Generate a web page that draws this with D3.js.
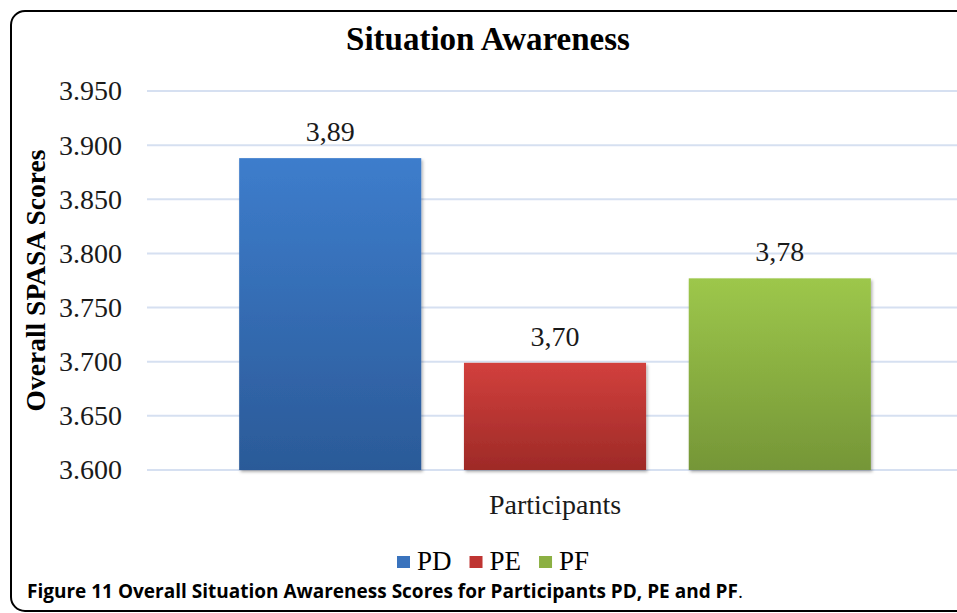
<!DOCTYPE html>
<html>
<head>
<meta charset="utf-8">
<script src="https://cdn.jsdelivr.net/npm/d3@7"></script>
<style>
  body { margin: 0; background: #fff; }
  svg { display: block; }
</style>
</head>
<body>
<script>
// chart data
var categories = ["Participants"];
var series = ["PD", "PE", "PF"];
var scores = [3.888, 3.699, 3.777];
var yTicks = [3.600, 3.650, 3.700, 3.750, 3.800, 3.850, 3.900, 3.950];
var yTickLabels = ["3.600", "3.650", "3.700", "3.750", "3.800", "3.850", "3.900", "3.950"];

var width = 957,
    height = 613;

// gradient top / bottom per series
var colors = {
  PD: ["#3d7dcc", "#2b5a98"],
  PE: ["#d2403d", "#9e2a27"],
  PF: ["#9dc74b", "#759637"]
};
var legendColors = { PD: "#3a73bd", PE: "#bf3532", PF: "#8cb043" };

var svg = d3.select("body")
    .append("svg")
    .attr("width", width)
    .attr("height", height);

var defs = svg.append("defs");
series.forEach(function(s) {
  var g = defs.append("linearGradient")
      .attr("id", "grad-" + s)
      .attr("x1", 0).attr("y1", 0).attr("x2", 0).attr("y2", 1);
  g.append("stop").attr("offset", "0%").attr("stop-color", colors[s][0]);
  g.append("stop").attr("offset", "100%").attr("stop-color", colors[s][1]);
});
defs.append("filter")
    .attr("id", "shadow")
    .attr("x", "-10%").attr("y", "-10%").attr("width", "130%").attr("height", "130%")
  .append("feDropShadow")
    .attr("dx", 1.5).attr("dy", 2).attr("stdDeviation", 1.8)
    .attr("flood-color", "#000").attr("flood-opacity", 0.3);

// frame of the figure (right side runs off the page)
svg.append("rect")
    .attr("x", 11).attr("y", 11)
    .attr("width", 980).attr("height", 600)
    .attr("rx", 14).attr("ry", 14)
    .attr("fill", "none")
    .attr("stroke", "#000")
    .attr("stroke-width", 2);

var plotLeft = 147, plotRight = 963;

var y = d3.scaleLinear()
    .domain([3.6, 3.95])
    .range([470, 91]);

var x0 = d3.scaleBand()
    .domain(categories)
    .range([plotLeft, plotRight]);

var x1 = d3.scaleBand()
    .domain(series)
    .range([0, x0.bandwidth()])
    .paddingInner(0.19)
    .paddingOuter(0.41);

// gridlines
svg.append("g")
    .selectAll("line")
    .data(yTicks)
    .enter()
    .append("line")
    .attr("x1", plotLeft)
    .attr("x2", plotRight)
    .attr("y1", function(d) { return y(d); })
    .attr("y2", function(d) { return y(d); })
    .attr("stroke", "#d6e0f1")
    .attr("stroke-width", 2);

// y axis labels
var yAxis = d3.axisLeft(y)
    .tickValues(yTicks)
    .tickFormat(function(d, i) { return yTickLabels[i]; })
    .tickSize(0)
    .tickPadding(25);

var yg = svg.append("g")
    .attr("transform", "translate(" + plotLeft + ",0)")
    .call(yAxis);
yg.select(".domain").remove();
yg.selectAll("text")
    .attr("font-family", "'Liberation Serif', 'Times New Roman', serif")
    .attr("font-size", 28)
    .attr("fill", "#1a1a1a");

// bars
var group = svg.append("g")
    .selectAll("g")
    .data(categories)
    .enter()
    .append("g")
    .attr("transform", function(d) { return "translate(" + x0(d) + ",0)"; });

group.selectAll("rect")
    .data(series.map(function(s, i) { return { key: s, value: scores[i] }; }))
    .enter()
    .append("rect")
    .attr("x", function(d) { return x1(d.key); })
    .attr("y", function(d) { return y(d.value); })
    .attr("width", x1.bandwidth())
    .attr("height", function(d) { return y(3.6) - y(d.value); })
    .attr("fill", function(d) { return "url(#grad-" + d.key + ")"; })
    .attr("filter", "url(#shadow)");

// value labels, comma decimal
var fmt = d3.format(".2f");
group.selectAll("text.val")
    .data(series.map(function(s, i) { return { key: s, value: scores[i] }; }))
    .enter()
    .append("text")
    .attr("class", "val")
    .attr("x", function(d) { return x1(d.key) + x1.bandwidth() / 2; })
    .attr("y", function(d) { return y(d.value) - 17; })
    .attr("text-anchor", "middle")
    .attr("font-family", "'Liberation Serif', 'Times New Roman', serif")
    .attr("font-size", 28)
    .attr("fill", "#1a1a1a")
    .text(function(d) { return fmt(d.value).replace(".", ","); });

// category label under the plot
svg.selectAll("text.cat")
    .data(categories)
    .enter()
    .append("text")
    .attr("class", "cat")
    .attr("x", function(d) { return x0(d) + x0.bandwidth() / 2; })
    .attr("y", 514)
    .attr("text-anchor", "middle")
    .attr("font-family", "'Liberation Serif', 'Times New Roman', serif")
    .attr("font-size", 28)
    .attr("fill", "#1a1a1a")
    .text(function(d) { return d; });

// title
svg.append("text")
    .attr("x", 488)
    .attr("y", 50)
    .attr("text-anchor", "middle")
    .attr("font-family", "'Liberation Serif', 'Times New Roman', serif")
    .attr("font-weight", "bold")
    .attr("font-size", 33)
    .attr("fill", "#000")
    .text("Situation Awareness");

// y axis title
svg.append("text")
    .attr("transform", "translate(45," + ((y(3.6) + y(3.95)) / 2) + ") rotate(-90)")
    .attr("text-anchor", "middle")
    .attr("font-family", "'Liberation Serif', 'Times New Roman', serif")
    .attr("font-weight", "bold")
    .attr("font-size", 27.5)
    .attr("fill", "#000")
    .text("Overall SPASA Scores");

// legend
var legend = svg.append("g");
var lx = 397;
series.forEach(function(s) {
  legend.append("rect")
      .attr("x", lx).attr("y", 556)
      .attr("width", 13).attr("height", 12)
      .attr("fill", legendColors[s]);
  var t = legend.append("text")
      .attr("x", lx + 20)
      .attr("y", 570)
      .attr("font-family", "'Liberation Serif', 'Times New Roman', serif")
      .attr("font-size", 27)
      .attr("fill", "#000")
      .text(s);
  lx += 20 + t.node().getComputedTextLength() + 18;
});

// caption
var cap = svg.append("text")
    .attr("x", 27)
    .attr("y", 598)
    .attr("font-family", "'Open Sans', sans-serif")
    .attr("font-size", 19)
    .attr("fill", "#000");
cap.append("tspan").attr("font-weight", "bold")
    .text("Figure 11 Overall Situation Awareness Scores for Participants PD, PE and PF");
cap.append("tspan").text(".");
</script>
</body>
</html>
